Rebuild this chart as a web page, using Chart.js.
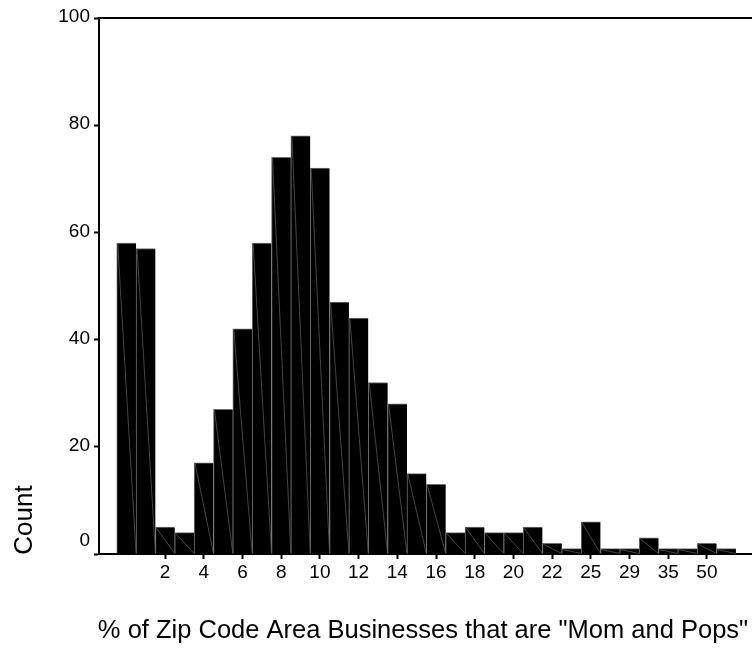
<!DOCTYPE html>
<html>
<head>
<meta charset="utf-8">
<title>Mom and Pops histogram</title>
<script src="https://cdn.jsdelivr.net/npm/chart.js@4.4.1/dist/chart.umd.min.js"></script>
<style>
  html, body { margin: 0; padding: 0; background: #fff; }
  #wrap { width: 752px; height: 650px; }
</style>
</head>
<body>
<div id="wrap"><canvas id="chart" width="752" height="650"></canvas></div>
<script>
// Bin labels along the x axis (only every other bin is labelled)
const tickLabels = ['', '', '2', '', '4', '', '6', '', '8', '', '10', '', '12', '', '14', '', '16', '', '18', '', '20', '', '22', '', '25', '', '29', '', '35', '', '50', ''];
// Number of zip codes in each bin
const counts = [58, 57, 5, 4, 17, 27, 42, 58, 74, 78, 72, 47, 44, 32, 28, 15, 13, 4, 5, 4, 4, 5, 2, 1, 6, 1, 1, 3, 1, 1, 2, 1];
// Count axis ticks
const yTicks = [0, 20, 40, 60, 80, 100];

const xTitle = '% of Zip Code Area Businesses that are "Mom and Pops"';
const yTitle = 'Count';
const FONT = "'Liberation Sans', Arial, Helvetica, sans-serif";

// Thin diagonal seam across each bar, plus frame line and titles
const decorations = {
  id: 'decorations',
  afterDatasetsDraw(chart) {
    const ctx = chart.ctx;
    const meta = chart.getDatasetMeta(0);
    ctx.save();
    ctx.strokeStyle = '#555';
    ctx.lineWidth = 0.8;
    meta.data.forEach(bar => {
      const p = bar.getProps(['x', 'y', 'base', 'width'], true);
      ctx.beginPath();
      ctx.moveTo(p.x - p.width / 2 + 1, p.y + 1);
      ctx.lineTo(p.x + p.width / 2, p.base);
      ctx.stroke();
    });
    ctx.restore();
  },
  afterDraw(chart) {
    const ctx = chart.ctx;
    const area = chart.chartArea;
    const yScale = chart.scales.y;
    ctx.save();
    // top frame line
    ctx.strokeStyle = '#000';
    ctx.lineWidth = 2;
    ctx.beginPath();
    ctx.moveTo(area.left - 1, area.top);
    ctx.lineTo(area.right, area.top);
    ctx.stroke();

    ctx.fillStyle = '#000';
    // zero label sits a little above its tick
    ctx.font = '19px ' + FONT;
    ctx.textAlign = 'right';
    ctx.textBaseline = 'middle';
    ctx.fillText('0', area.left - 9, yScale.getPixelForValue(0) - 13);

    // axis titles
    ctx.font = '25.5px ' + FONT;
    ctx.textAlign = 'center';
    ctx.textBaseline = 'alphabetic';
    ctx.fillText(xTitle, 423, 638);
    ctx.font = '26px ' + FONT;
    ctx.translate(32, 520);
    ctx.rotate(-Math.PI / 2);
    ctx.fillText(yTitle, 0, 0);
    ctx.restore();
  }
};

const data = {
  datasets: [{
    data: counts.map((c, i) => ({ x: i, y: c })),
    backgroundColor: '#000',
    borderColor: '#6e6e6e',
    borderWidth: { top: 1, left: 1, right: 0, bottom: 0 },
    borderSkipped: false,
    barPercentage: 1,
    categoryPercentage: 1
  }]
};

new Chart(document.getElementById('chart'), {
  type: 'bar',
  data,
  plugins: [decorations],
  options: {
    responsive: false,
    animation: false,
    events: [],
    layout: { padding: { top: 18, right: 0, bottom: 0, left: 0 } },
    plugins: { legend: { display: false }, tooltip: { enabled: false }, title: { display: false } },
    scales: {
      x: {
        type: 'linear',
        offset: false,
        bounds: 'data',
        min: -1.416,
        max: 32.33,
        afterBuildTicks(scale) {
          scale.ticks = tickLabels.map((t, i) => (t ? { value: i } : null)).filter(Boolean);
        },
        afterFit(scale) { scale.height = 96; },
        ticks: {
          autoSkip: false,
          maxRotation: 0,
          padding: 2,
          color: '#000',
          font: { family: FONT, size: 19 },
          callback: (v) => tickLabels[v]
        },
        grid: { drawOnChartArea: false, drawTicks: true, tickLength: 5, tickWidth: 2, tickColor: '#000', offset: false },
        border: { display: true, color: '#000', width: 2 }
      },
      y: {
        type: 'linear',
        min: 0,
        max: 100,
        afterBuildTicks(scale) {
          scale.ticks = yTicks.map(v => ({ value: v }));
        },
        afterFit(scale) { scale.width = 99; },
        ticks: {
          padding: 4,
          labelOffset: -1,
          color: '#000',
          font: { family: FONT, size: 19 },
          callback: (v) => (v === 0 ? '' : String(v))
        },
        grid: { drawOnChartArea: false, drawTicks: true, tickLength: 5, tickWidth: 2, tickColor: '#000' },
        border: { display: true, color: '#000', width: 2 }
      }
    }
  }
});
</script>
</body>
</html>
